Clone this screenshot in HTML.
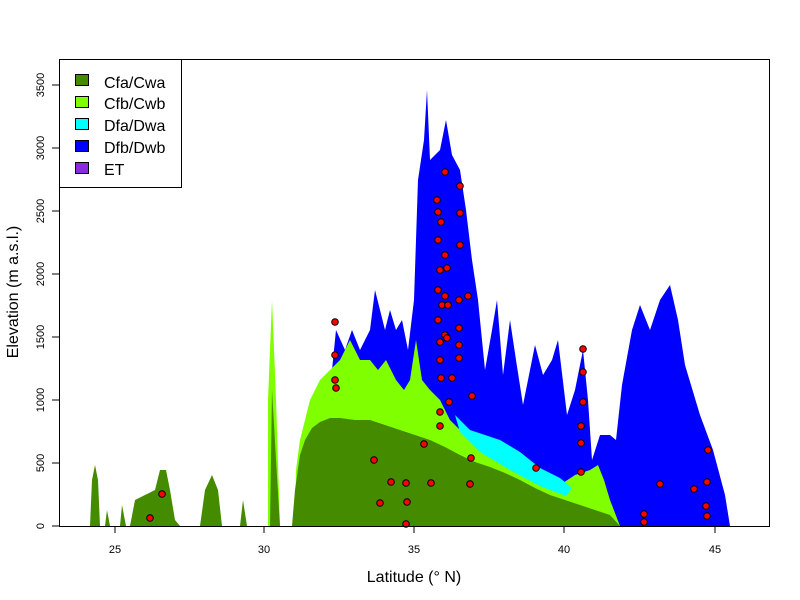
<!DOCTYPE html><html><head><style>body{margin:0;background:#fff}svg{display:block}text{font-family:"Liberation Sans",Arial,sans-serif}</style></head><body>
<svg width="800" height="600" viewBox="0 0 800 600">
<defs><clipPath id="c"><rect x="59" y="59" width="710" height="467"/></clipPath></defs>
<g clip-path="url(#c)">
<path fill="#0000ff" d="M330,526 L330,390 L336,330 L345,350 L352,330 L360,350 L370,330 L375,290 L380,310 L385,330 L390,310 L396,330 L402,320 L408,350 L414,300 L418,180 L424,140 L427,90 L430,160 L440,150 L446,120 L452,155 L460,170 L466,210 L472,260 L478,300 L485,370 L492,330 L497,300 L503,375 L510,320 L516,360 L523,405 L530,370 L535,345 L543,375 L552,360 L558,340 L567,415 L575,390 L583,350 L588,400 L592,460 L600,435 L610,435 L616,440 L622,385 L632,330 L640,305 L650,330 L660,300 L670,285 L678,320 L685,365 L700,415 L713,450 L725,495 L730,526 Z"/>
<path fill="#7fff00" d="M268,526 L268,400 L272,300 L276,400 L280,526 Z"/>
<path fill="#7fff00" d="M295,526 L296,470 L300,440 L310,400 L320,380 L330,370 L340,360 L350,340 L360,360 L370,360 L378,370 L386,360 L396,380 L404,390 L410,380 L416,340 L422,380 L430,390 L440,400 L450,420 L460,430 L470,440 L480,440 L490,450 L500,455 L515,460 L530,470 L545,480 L560,485 L575,475 L590,470 L598,465 L604,480 L610,500 L620,526 Z"/>
<path fill="#00ffff" d="M455,415 L470,430 L500,440 L520,452 L540,468 L560,478 L572,488 L566,496 L540,486 L510,470 L480,452 L460,432Z"/>
<path fill="#458b00" d="M90,526 L92,480 L95,465 L98,480 L100,526 Z M105,526 L107,510 L110,526Z M120,526 L122,505 L126,526Z M130,526 L135,500 L145,495 L155,490 L160,470 L166,470 L170,490 L175,520 L180,526Z M200,526 L205,490 L212,475 L218,490 L222,526Z M240,526 L243,500 L247,526Z M270,526 L272,390 L276,460 L280,526Z"/>
<path fill="#458b00" d="M292,526 L295,490 L300,455 L305,440 L312,428 L320,422 L330,418 L340,418 L355,420 L370,420 L385,425 L400,430 L415,435 L430,440 L445,447 L460,455 L475,462 L490,467 L505,473 L520,480 L535,488 L550,495 L565,500 L580,505 L595,510 L610,515 L620,526Z"/>
</g>
<g fill="#ff0000" stroke="#000" stroke-width="1">
<circle cx="150" cy="518" r="3.3"/><circle cx="162" cy="494" r="3.3"/>
<circle cx="335" cy="322" r="3.3"/><circle cx="335" cy="355" r="3.3"/><circle cx="335" cy="380" r="3.3"/><circle cx="336" cy="388" r="3.3"/>
<circle cx="374" cy="460" r="3.3"/><circle cx="406" cy="483" r="3.3"/><circle cx="380" cy="503" r="3.3"/><circle cx="391" cy="482" r="3.3"/><circle cx="407" cy="502" r="3.3"/><circle cx="431" cy="483" r="3.3"/><circle cx="406" cy="524" r="3.3"/><circle cx="424" cy="444" r="3.3"/><circle cx="471" cy="458" r="3.3"/><circle cx="470" cy="484" r="3.3"/>
<circle cx="437" cy="200" r="3.3"/><circle cx="438" cy="212" r="3.3"/><circle cx="445" cy="172" r="3.3"/><circle cx="441" cy="222" r="3.3"/><circle cx="460" cy="186" r="3.3"/><circle cx="460" cy="213" r="3.3"/>
<circle cx="438" cy="240" r="3.3"/><circle cx="445" cy="255" r="3.3"/><circle cx="447" cy="268" r="3.3"/><circle cx="440" cy="270" r="3.3"/><circle cx="460" cy="245" r="3.3"/>
<circle cx="438" cy="290" r="3.3"/><circle cx="445" cy="296" r="3.3"/><circle cx="442" cy="305" r="3.3"/><circle cx="448" cy="305" r="3.3"/><circle cx="459" cy="300" r="3.3"/><circle cx="468" cy="296" r="3.3"/>
<circle cx="438" cy="320" r="3.3"/><circle cx="445" cy="335" r="3.3"/><circle cx="440" cy="342" r="3.3"/><circle cx="447" cy="338" r="3.3"/><circle cx="459" cy="328" r="3.3"/><circle cx="459" cy="345" r="3.3"/><circle cx="459" cy="358" r="3.3"/>
<circle cx="440" cy="360" r="3.3"/><circle cx="441" cy="378" r="3.3"/><circle cx="449" cy="402" r="3.3"/><circle cx="472" cy="396" r="3.3"/><circle cx="440" cy="412" r="3.3"/><circle cx="440" cy="426" r="3.3"/><circle cx="452" cy="378" r="3.3"/>
<circle cx="536" cy="468" r="3.3"/><circle cx="583" cy="349" r="3.3"/><circle cx="583" cy="372" r="3.3"/><circle cx="583" cy="402" r="3.3"/><circle cx="581" cy="426" r="3.3"/><circle cx="581" cy="443" r="3.3"/><circle cx="581" cy="472" r="3.3"/>
<circle cx="660" cy="484" r="3.3"/><circle cx="644" cy="514" r="3.3"/><circle cx="644" cy="522" r="3.3"/><circle cx="694" cy="489" r="3.3"/><circle cx="708" cy="450" r="3.3"/><circle cx="707" cy="482" r="3.3"/><circle cx="706" cy="506" r="3.3"/><circle cx="707" cy="516" r="3.3"/>
</g>
<rect x="59.5" y="59.5" width="710" height="467" fill="none" stroke="#000"/>
<g stroke="#000">
<line x1="115" y1="526" x2="115" y2="533"/><line x1="264" y1="526" x2="264" y2="533"/><line x1="414" y1="526" x2="414" y2="533"/><line x1="564" y1="526" x2="564" y2="533"/><line x1="715" y1="526" x2="715" y2="533"/>
<line x1="52" y1="526" x2="59" y2="526"/><line x1="52" y1="463" x2="59" y2="463"/><line x1="52" y1="400" x2="59" y2="400"/><line x1="52" y1="337" x2="59" y2="337"/><line x1="52" y1="274" x2="59" y2="274"/><line x1="52" y1="211" x2="59" y2="211"/><line x1="52" y1="148" x2="59" y2="148"/><line x1="52" y1="85" x2="59" y2="85"/>
</g>
<g font-size="11" text-anchor="middle">
<text x="115" y="553">25</text><text x="264" y="553">30</text><text x="414" y="553">35</text><text x="564" y="553">40</text><text x="715" y="553">45</text>
<g transform="rotate(-90)"><text x="-526" y="44">0</text><text x="-463" y="44">500</text><text x="-400" y="44">1000</text><text x="-337" y="44">1500</text><text x="-274" y="44">2000</text><text x="-211" y="44">2500</text><text x="-148" y="44">3000</text><text x="-85" y="44">3500</text></g>
</g>
<text x="414" y="582" font-size="16" text-anchor="middle">Latitude (° N)</text>
<text transform="rotate(-90)" x="-292" y="18" font-size="16" text-anchor="middle">Elevation (m a.s.l.)</text>
<rect x="59.5" y="59.5" width="122" height="128" fill="#fff" stroke="#000"/>
<g stroke="#000" stroke-width="1">
<rect x="75.5" y="74.5" width="13" height="11" fill="#458b00"/>
<rect x="75.5" y="96.5" width="13" height="11" fill="#7fff00"/>
<rect x="75.5" y="118.5" width="13" height="11" fill="#00ffff"/>
<rect x="75.5" y="140.5" width="13" height="11" fill="#0000ff"/>
<rect x="75.5" y="162.5" width="13" height="11" fill="#8a2be2"/>
</g>
<g font-size="16"><text x="104" y="88">Cfa/Cwa</text><text x="104" y="109">Cfb/Cwb</text><text x="104" y="131">Dfa/Dwa</text><text x="104" y="153">Dfb/Dwb</text><text x="104" y="175">ET</text></g>
</svg></body></html>
